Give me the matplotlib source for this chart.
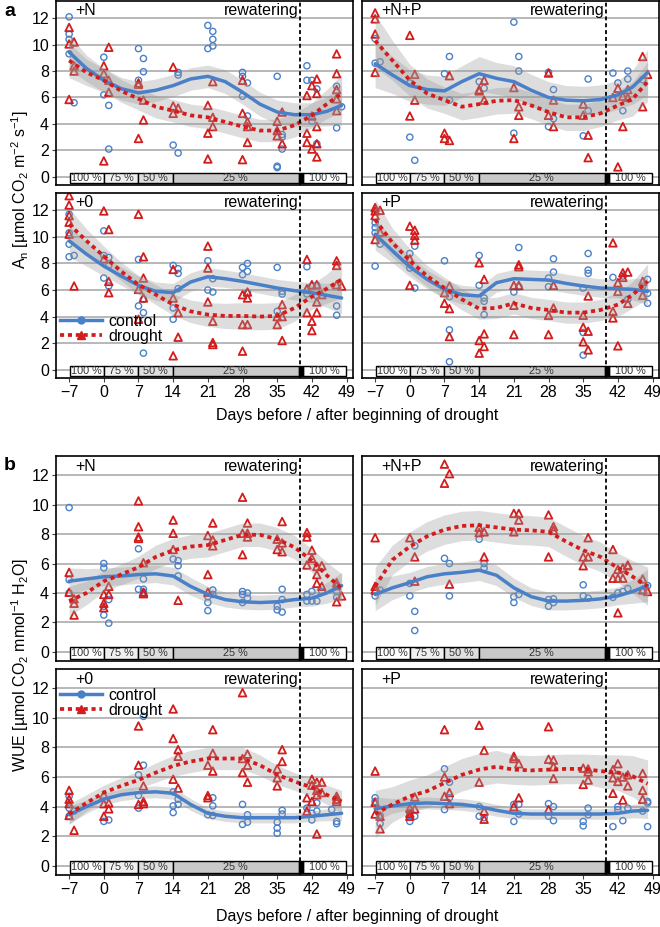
import matplotlib
matplotlib.use('Agg')
import matplotlib.pyplot as plt
from matplotlib.lines import Line2D
from matplotlib.patches import Rectangle

plt.rcParams['font.family'] = ['Liberation Sans', 'DejaVu Sans']

curve_days = [-7, -3.5, 0, 3.5, 7, 10.5, 14, 17.5, 21, 24.5, 28, 31.5, 35, 38.5, 42, 45, 48]
day_ticks = [-7, 0, 7, 14, 21, 28, 35, 42, 49]

# water supply bar
water_start = [-6.9, 0, 7, 14, 40.2]
water_end = [0, 7, 14, 39.3, 48.9]
water_labels = ['100 %', '75 %', '50 %', '25 %', '100 %']

# ---- a: net assimilation ----
an_N_ctrl_pts = [(-7, 12.1), (-7, 10.8), (-7, 10.4), (-7, 9.3), (-6, 5.6), (0, 9.05), (0, 6.2), (1, 5.4), (1, 2.1),
                 (7, 9.7), (7, 7.3), (8, 8.95), (8, 7.95), (14, 2.4), (15, 1.8), (15, 7.9), (15, 7.7), (21, 11.45),
                 (21, 9.7), (22, 11.0), (22, 10.4), (22, 9.9), (28, 7.9), (28, 7.6), (28, 6.1), (29, 7.1), (29, 4.6),
                 (35, 7.6), (35, 0.8), (35, 0.7), (36, 3.2), (36, 3.0), (36, 2.1), (41, 8.4), (41, 7.3), (42, 7.3),
                 (42, 4.2), (43, 6.65), (43, 2.5), (47, 3.7), (47, 6.85), (48, 5.3)]
an_N_drt_pts = [(-7, 11.3), (-7, 10.05), (-6, 10.2), (-6, 8.4), (-6, 8.0), (-7, 5.85), (0, 8.4), (0, 7.8), (1, 9.8),
                (1, 7.3), (1, 6.4), (0, 1.2), (7, 7.1), (7, 7.0), (7, 2.9), (8, 5.8), (8, 4.3), (14, 8.3), (14, 4.8),
                (14, 5.35), (15, 5.2), (21, 5.4), (21, 3.3), (21, 1.35), (22, 4.5), (22, 3.8), (22, 7.2), (28, 7.3),
                (28, 4.8), (28, 1.3), (29, 4.15), (29, 3.8), (29, 2.6), (35, 4.2), (35, 3.5), (35, 3.1), (36, 4.9),
                (36, 2.5), (41, 6.15), (41, 3.3), (41, 2.6), (42, 6.9), (42, 2.1), (43, 1.5), (43, 7.4), (43, 6.3),
                (43, 3.8), (43, 2.5), (42, 4.6), (47, 9.3), (47, 7.8), (47, 6.6), (47, 5.9), (47, 5.0)]
an_N_ctrl_fit = [9.43, 8.2, 7.3, 6.67, 6.35, 6.55, 6.9, 7.4, 7.6, 7.2, 6.4, 5.5, 4.9, 4.7, 4.7, 4.95, 5.4]
an_N_drt_fit = [8.8, 7.9, 7.3, 6.5, 5.9, 5.3, 5.0, 4.65, 4.5, 4.15, 3.8, 3.5, 3.5, 3.9, 4.65, 5.5, 6.3]
an_N_ctrl_ci = [1.3, 1.0, 0.9, 0.85, 0.85, 0.85, 0.85, 0.85, 0.85, 0.9, 0.9, 0.9, 0.9, 0.9, 0.9, 1.1, 1.5]
an_N_drt_ci = [1.3, 1.0, 0.9, 0.85, 0.85, 0.85, 0.85, 0.85, 0.85, 0.85, 0.85, 0.85, 0.85, 0.9, 0.95, 1.1, 1.4]

an_NP_ctrl_pts = [(-7, 10.45), (-7, 8.6), (-6, 8.7), (0, 3.0), (1, 1.25), (0, 7.1), (8, 9.1), (7, 7.8), (8, 5.8),
                  (14, 7.2), (15, 6.7), (21, 11.7), (22, 9.1), (22, 8.0), (21, 3.3), (28, 7.9), (29, 6.6), (29, 4.4),
                  (28, 3.8), (36, 7.4), (36, 5.0), (35, 3.1), (41, 7.85), (42, 7.1), (44, 8.0), (44, 7.4), (43, 5.0),
                  (47, 7.35)]
an_NP_drt_pts = [(-7, 12.4), (-7, 11.95), (-7, 10.8), (-7, 7.9), (0, 10.7), (0, 4.6), (1, 7.75), (1, 5.8), (7, 3.3),
                 (7, 2.9), (8, 2.75), (8, 7.65), (14, 6.6), (14, 6.5), (15, 7.3), (15, 5.8), (21, 6.75), (21, 2.9),
                 (22, 5.3), (22, 4.65), (28, 7.85), (28, 4.65), (29, 5.8), (29, 3.8), (35, 5.5), (35, 4.65),
                 (36, 3.15), (36, 1.45), (41, 6.0), (42, 6.7), (42, 0.75), (43, 6.1), (43, 3.8), (44, 6.6), (44, 6.0),
                 (47, 9.1), (47, 5.3), (48, 7.75)]
an_NP_ctrl_fit = [8.55, 7.7, 6.9, 6.6, 6.5, 7.2, 7.8, 7.45, 7.2, 6.55, 6.0, 5.8, 5.75, 5.85, 6.2, 6.8, 7.9]
an_NP_drt_fit = [10.3, 8.8, 7.3, 6.3, 5.8, 5.3, 5.5, 5.75, 5.8, 5.4, 4.9, 4.5, 4.5, 4.8, 5.4, 5.9, 7.2]
an_NP_ctrl_ci = [1.8, 1.4, 1.2, 1.1, 1.1, 1.2, 1.3, 1.2, 1.2, 1.2, 1.2, 1.1, 1.1, 1.1, 1.1, 1.3, 1.7]
an_NP_drt_ci = [2.0, 1.5, 1.2, 1.1, 1.0, 1.0, 1.0, 1.0, 1.0, 1.0, 1.0, 1.0, 1.0, 1.0, 1.1, 1.3, 1.5]

an_0_ctrl_pts = [(-7, 11.7), (-7, 10.3), (-7, 9.45), (-7, 8.5), (-6, 8.6), (0, 10.45), (0, 8.6), (0, 6.9), (1, 8.45),
                 (1, 7.85), (1, 6.3), (7, 8.3), (7, 4.8), (8, 4.3), (8, 1.25), (8, 5.3), (14, 7.85), (15, 7.6),
                 (15, 7.25), (15, 6.1), (14, 4.65), (14, 3.8), (21, 8.2), (21, 6.0), (22, 6.85), (22, 5.85),
                 (28, 7.7), (28, 7.15), (29, 8.0), (29, 7.4), (29, 5.8), (35, 7.7), (35, 4.4), (36, 5.9), (36, 5.7),
                 (41, 7.75), (41, 5.7), (42, 6.3), (43, 6.35), (43, 5.55), (47, 4.8), (47, 4.1)]
an_0_drt_pts = [(-7, 13.1), (-7, 12.4), (-7, 11.6), (-7, 11.1), (-7, 10.2), (-6, 6.3), (0, 11.95), (0, 8.35),
                (1, 10.55), (1, 6.65), (1, 5.8), (7, 11.7), (7, 6.05), (7, 3.8), (8, 8.5), (8, 6.9), (8, 5.4),
                (14, 7.55), (14, 5.4), (14, 1.05), (15, 4.3), (15, 2.45), (21, 9.3), (21, 7.65), (21, 5.1),
                (22, 3.65), (22, 2.05), (22, 1.9), (28, 5.65), (28, 3.4), (28, 1.4), (29, 5.85), (29, 5.4), (29, 3.4),
                (35, 3.4), (35, 4.0), (36, 4.9), (36, 2.2), (36, 4.0), (41, 8.3), (41, 6.1), (41, 4.3), (42, 6.4),
                (42, 3.65), (42, 2.95), (43, 6.4), (43, 4.3), (43, 5.1), (44, 5.65), (47, 8.2), (47, 7.85),
                (48, 6.3), (47, 6.4)]
an_0_ctrl_fit = [9.7, 8.7, 7.8, 7.05, 6.35, 5.9, 5.8, 6.6, 7.0, 6.85, 6.65, 6.4, 6.15, 5.95, 5.8, 5.6, 5.4]
an_0_drt_fit = [10.95, 9.7, 8.55, 7.4, 6.4, 5.65, 4.9, 4.4, 4.15, 4.05, 4.05, 4.0, 4.05, 4.65, 5.5, 6.1, 6.8]
an_0_ctrl_ci = [1.2, 0.9, 0.75, 0.7, 0.7, 0.7, 0.7, 0.7, 0.7, 0.65, 0.65, 0.65, 0.65, 0.7, 0.75, 0.9, 1.2]
an_0_drt_ci = [1.2, 0.9, 0.75, 0.7, 0.7, 0.75, 0.8, 0.85, 0.9, 0.95, 1.0, 1.0, 1.0, 1.0, 0.95, 1.1, 1.4]

an_P_ctrl_pts = [(-7, 11.05), (-7, 10.7), (-7, 10.3), (-7, 7.8), (-6, 9.45), (0, 8.75), (0, 7.65), (1, 9.3),
                 (1, 6.15), (7, 8.2), (8, 3.0), (8, 0.6), (8, 5.5), (14, 8.6), (14, 6.35), (15, 5.4), (15, 5.15),
                 (15, 4.15), (21, 5.85), (22, 9.2), (22, 6.25), (28, 6.9), (29, 8.35), (29, 7.35), (28, 6.25),
                 (35, 6.15), (35, 2.8), (35, 1.1), (36, 8.75), (36, 7.5), (36, 7.25), (41, 6.95), (43, 7.05),
                 (44, 5.3), (47, 6.3), (48, 6.8), (48, 5.75), (48, 5.0)]
an_P_drt_pts = [(-7, 12.2), (-7, 11.95), (-7, 11.6), (-6, 12.0), (-7, 9.8), (-6, 10.35), (0, 10.8), (0, 8.35),
                (0, 6.35), (1, 10.5), (1, 10.1), (1, 9.75), (7, 5.8), (7, 5.0), (8, 6.3), (8, 4.6), (8, 2.5),
                (14, 8.05), (14, 2.2), (14, 1.25), (15, 6.8), (15, 2.7), (15, 1.75), (21, 6.35), (21, 4.85),
                (21, 2.65), (22, 7.9), (22, 7.75), (22, 6.35), (28, 4.1), (28, 2.65), (29, 4.65), (29, 6.35),
                (35, 4.1), (35, 3.2), (35, 2.1), (36, 2.9), (36, 1.5), (36, 5.55), (41, 9.55), (41, 4.4), (41, 3.9),
                (42, 6.55), (42, 5.9), (42, 1.8), (43, 7.3), (43, 6.95), (44, 7.35), (44, 5.0), (47, 6.65),
                (47, 5.6)]
an_P_ctrl_fit = [10.2, 8.95, 7.75, 6.8, 6.05, 5.65, 5.55, 6.55, 6.85, 6.8, 6.75, 6.5, 6.3, 6.15, 6.1, 6.05, 5.9]
an_P_drt_fit = [11.3, 9.55, 8.2, 7.05, 6.15, 5.3, 4.6, 4.65, 5.0, 4.65, 4.5, 4.3, 4.3, 4.5, 4.9, 5.65, 6.65]
an_P_ctrl_ci = [1.2, 0.9, 0.75, 0.7, 0.7, 0.7, 0.7, 0.7, 0.7, 0.7, 0.7, 0.7, 0.7, 0.7, 0.7, 0.8, 1.0]
an_P_drt_ci = [1.5, 1.1, 0.9, 0.8, 0.8, 0.8, 0.8, 0.8, 0.8, 0.8, 0.8, 0.8, 0.8, 0.8, 0.9, 1.0, 1.3]

# ---- b: water use efficiency ----
wue_N_ctrl_pts = [(-7, 9.8), (-7, 4.9), (-7, 4.0), (0, 6.0), (0, 5.7), (0, 3.1), (0, 2.5), (1, 3.55), (1, 1.95),
                  (7, 7.0), (7, 4.25), (8, 4.95), (8, 4.25), (8, 4.05), (14, 6.3), (15, 6.2), (15, 5.85), (15, 5.15),
                  (21, 3.75), (21, 3.35), (21, 2.8), (22, 4.2), (22, 3.9), (28, 4.1), (28, 3.9), (28, 3.35),
                  (29, 4.0), (29, 3.65), (35, 3.1), (35, 2.85), (36, 4.25), (36, 3.55), (36, 2.7), (41, 3.9),
                  (41, 3.45), (42, 4.1), (42, 3.45), (43, 3.45), (44, 4.1), (47, 4.1), (47, 3.7)]
wue_N_drt_pts = [(-7, 5.4), (-7, 4.05), (-6, 3.6), (-6, 3.3), (-6, 2.5), (0, 3.9), (0, 3.3), (0, 3.0), (1, 4.45),
                 (1, 3.9), (7, 10.25), (7, 8.5), (7, 7.8), (7, 7.7), (8, 6.05), (8, 4.05), (8, 3.95), (14, 8.95),
                 (14, 8.05), (14, 6.95), (15, 3.5), (21, 5.25), (21, 4.05), (21, 7.9), (22, 8.75), (22, 7.6),
                 (22, 7.2), (28, 10.5), (28, 6.6), (28, 8.05), (29, 8.75), (29, 8.05), (29, 7.8), (35, 7.65),
                 (35, 6.95), (36, 8.85), (36, 7.4), (36, 6.8), (41, 8.1), (41, 7.8), (41, 5.9), (42, 6.9), (42, 6.35),
                 (43, 5.8), (43, 5.25), (43, 4.65), (44, 5.85), (44, 4.45), (47, 4.7), (47, 4.5), (47, 3.4),
                 (48, 3.8)]
wue_N_ctrl_fit = [4.8, 4.95, 5.1, 5.15, 5.25, 5.3, 5.15, 4.45, 3.9, 3.55, 3.4, 3.35, 3.4, 3.55, 3.65, 4.0, 4.5]
wue_N_drt_fit = [3.45, 4.0, 4.8, 5.25, 5.75, 6.45, 6.9, 7.15, 7.25, 7.6, 7.95, 7.95, 7.65, 7.1, 6.2, 5.2, 4.3]
wue_N_ctrl_ci = [0.9, 0.7, 0.6, 0.6, 0.6, 0.6, 0.6, 0.6, 0.55, 0.5, 0.5, 0.5, 0.5, 0.5, 0.55, 0.7, 0.9]
wue_N_drt_ci = [1.0, 0.8, 0.7, 0.7, 0.75, 0.8, 0.8, 0.8, 0.8, 0.8, 0.8, 0.8, 0.8, 0.8, 0.8, 0.9, 1.0]

wue_NP_ctrl_pts = [(-7, 3.8), (-6, 4.2), (0, 4.65), (0, 3.8), (1, 7.2), (1, 2.75), (1, 1.45), (7, 6.35), (8, 6.0),
                   (8, 3.8), (14, 7.65), (15, 6.0), (15, 5.7), (21, 3.75), (21, 3.35), (22, 3.9), (28, 3.55),
                   (28, 3.1), (29, 3.6), (29, 3.35), (35, 4.55), (35, 3.8), (36, 3.65), (41, 3.7), (42, 4.0),
                   (43, 4.1), (44, 4.3), (47, 4.2), (48, 4.5)]
wue_NP_drt_pts = [(-7, 7.75), (-7, 4.2), (-7, 4.45), (0, 7.75), (1, 6.45), (1, 4.8), (7, 12.75), (7, 11.45),
                  (8, 12.1), (8, 4.6), (14, 8.45), (14, 8.1), (15, 8.15), (15, 6.45), (21, 9.4), (21, 8.15),
                  (22, 9.4), (22, 8.95), (28, 9.3), (28, 6.45), (29, 8.5), (29, 8.25), (35, 6.45), (35, 5.85),
                  (36, 7.75), (36, 6.45), (41, 6.95), (41, 5.0), (42, 5.6), (42, 2.65), (43, 5.7), (43, 5.0),
                  (44, 5.9), (44, 5.85), (47, 4.95), (47, 4.2), (48, 4.1), (42, 5.0)]
wue_NP_ctrl_fit = [3.9, 4.35, 4.7, 5.1, 5.3, 5.4, 5.55, 5.2, 4.35, 3.75, 3.45, 3.45, 3.5, 3.6, 3.8, 4.1, 4.5]
wue_NP_drt_fit = [4.45, 6.25, 7.15, 7.85, 8.3, 8.55, 8.6, 8.45, 8.3, 8.25, 8.15, 7.5, 6.9, 6.45, 5.7, 5.1, 4.45]
wue_NP_ctrl_ci = [1.1, 0.8, 0.7, 0.7, 0.7, 0.7, 0.7, 0.7, 0.65, 0.6, 0.6, 0.6, 0.6, 0.6, 0.6, 0.8, 1.1]
wue_NP_drt_ci = [1.3, 1.0, 1.0, 1.0, 1.0, 1.0, 1.0, 1.0, 1.0, 1.0, 1.0, 1.0, 1.0, 1.0, 1.0, 1.1, 1.3]

wue_0_ctrl_pts = [(-7, 4.7), (-7, 3.9), (-7, 3.35), (-6, 3.7), (0, 3.0), (1, 3.1), (7, 6.15), (7, 4.75), (7, 3.9),
                  (8, 10.1), (8, 6.8), (14, 4.05), (14, 3.6), (15, 4.5), (15, 4.15), (14, 5.0), (21, 3.45),
                  (22, 4.6), (22, 4.05), (22, 3.4), (28, 4.15), (28, 2.8), (29, 3.45), (29, 2.95), (35, 2.95),
                  (35, 2.55), (35, 2.2), (36, 3.75), (36, 3.5), (41, 3.9), (42, 3.55), (42, 3.1), (43, 4.25),
                  (43, 3.7), (46, 3.8), (47, 3.0), (47, 2.85)]
wue_0_drt_pts = [(-7, 5.1), (-7, 4.5), (-7, 4.2), (-7, 3.4), (-6, 2.4), (0, 4.8), (0, 4.2), (0, 3.35), (1, 4.25),
                 (1, 3.85), (7, 9.45), (7, 6.8), (7, 4.15), (8, 5.4), (8, 4.35), (8, 4.2), (14, 10.6), (14, 8.6),
                 (14, 5.85), (15, 7.85), (15, 7.4), (15, 5.25), (21, 6.8), (21, 4.75), (21, 4.6), (22, 9.2),
                 (22, 7.6), (22, 6.4), (28, 11.7), (28, 7.25), (28, 6.3), (29, 7.55), (29, 6.8), (29, 5.65),
                 (35, 6.55), (35, 5.95), (35, 5.4), (36, 7.85), (36, 7.05), (41, 4.6), (41, 3.7), (42, 5.85),
                 (42, 5.45), (42, 4.35), (43, 5.65), (43, 5.1), (43, 4.8), (43, 2.15), (44, 5.65), (44, 4.95),
                 (47, 4.5), (47, 4.35), (47, 4.7)]
wue_0_ctrl_fit = [3.45, 4.0, 4.5, 4.8, 4.95, 5.0, 4.9, 4.15, 3.55, 3.35, 3.25, 3.25, 3.25, 3.25, 3.35, 3.45, 3.55]
wue_0_drt_fit = [3.5, 4.25, 4.95, 5.4, 5.8, 6.3, 6.75, 7.05, 7.25, 7.25, 7.25, 6.8, 6.15, 5.7, 5.3, 4.8, 4.35]
wue_0_ctrl_ci = [0.6, 0.45, 0.4, 0.4, 0.4, 0.4, 0.4, 0.4, 0.35, 0.35, 0.35, 0.35, 0.35, 0.35, 0.35, 0.4, 0.5]
wue_0_drt_ci = [0.7, 0.55, 0.5, 0.55, 0.6, 0.65, 0.7, 0.75, 0.75, 0.75, 0.75, 0.7, 0.65, 0.6, 0.6, 0.65, 0.75]

wue_P_ctrl_pts = [(-7, 4.6), (-7, 4.35), (-6, 3.4), (-6, 2.85), (0, 3.6), (0, 3.0), (1, 3.35), (7, 6.55), (7, 3.8),
                  (8, 5.65), (8, 4.6), (14, 4.0), (14, 3.35), (15, 3.25), (21, 3.0), (21, 4.15), (22, 4.15),
                  (22, 3.5), (28, 4.2), (28, 3.35), (29, 4.0), (29, 3.05), (35, 3.0), (35, 2.7), (36, 3.9),
                  (36, 3.45), (41, 2.65), (42, 4.0), (42, 3.8), (43, 3.05), (44, 3.9), (47, 3.7), (48, 4.35),
                  (48, 4.25), (48, 2.65)]
wue_P_drt_pts = [(-7, 6.4), (-7, 4.3), (-7, 3.5), (-6, 3.35), (-6, 2.5), (0, 3.9), (0, 3.55), (0, 3.35), (1, 4.65),
                 (1, 3.85), (7, 9.2), (7, 6.0), (7, 4.7), (8, 4.95), (8, 4.2), (14, 9.5), (14, 5.65), (15, 7.8),
                 (15, 3.7), (15, 3.15), (21, 7.4), (21, 7.25), (21, 4.0), (22, 6.9), (22, 4.6), (28, 9.4), (28, 7.2),
                 (28, 3.8), (29, 7.15), (29, 6.7), (29, 5.9), (35, 6.6), (35, 5.5), (36, 6.55), (36, 6.35),
                 (36, 5.8), (41, 6.5), (41, 5.95), (41, 4.9), (42, 6.9), (42, 5.7), (43, 6.0), (43, 4.45),
                 (44, 6.15), (44, 5.4), (47, 6.25), (47, 5.1), (47, 4.5)]
wue_P_ctrl_fit = [3.85, 4.05, 4.2, 4.25, 4.2, 4.15, 4.0, 3.75, 3.55, 3.5, 3.5, 3.5, 3.5, 3.5, 3.55, 3.7, 3.75]
wue_P_drt_fit = [3.5, 4.15, 4.7, 5.05, 5.6, 6.15, 6.5, 6.7, 6.5, 6.45, 6.5, 6.55, 6.55, 6.4, 6.3, 6.05, 5.55]
wue_P_ctrl_ci = [0.8, 0.5, 0.4, 0.4, 0.4, 0.4, 0.4, 0.4, 0.35, 0.35, 0.35, 0.35, 0.35, 0.35, 0.4, 0.45, 0.55]
wue_P_drt_ci = [1.6, 1.2, 1.1, 1.1, 1.1, 1.1, 1.1, 1.1, 1.0, 1.0, 1.0, 1.0, 1.0, 1.1, 1.2, 1.4, 1.6]

BLUE = '#4a80c8'
RED = '#d41c1c'
DOTS = (0, (1.1, 1.0))
water_colors = ['white', '#efefef', '#dedede', '#c9c9c9', 'white']


def draw_panel(ax, name, ctrl_pts, drt_pts, ctrl_fit, drt_fit, ctrl_ci, drt_ci, bottom, left):
    for y in range(0, 13, 2):
        ax.axhline(y, color='#b8b8b8', lw=1.4, zorder=0.5)
    cx, cy = zip(*ctrl_pts)
    dx, dy = zip(*drt_pts)
    ax.scatter(cx, cy, marker='o', s=20, facecolors='none', edgecolors=BLUE, linewidths=1.0, zorder=2)
    ax.scatter(dx, dy, marker='^', s=30, facecolors='none', edgecolors=RED, linewidths=1.3, zorder=2)
    for fit, ci in ((ctrl_fit, ctrl_ci), (drt_fit, drt_ci)):
        lo = [f - c for f, c in zip(fit, ci)]
        hi = [f + c for f, c in zip(fit, ci)]
        ax.fill_between(curve_days, lo, hi, color='#999999', alpha=0.33, lw=0, zorder=3)
    ax.plot(curve_days, ctrl_fit, color=BLUE, lw=2.5, zorder=4, solid_capstyle='round')
    ax.plot(curve_days, drt_fit, color=RED, lw=2.7, ls=DOTS, zorder=4)

    for s, e, lab, col in zip(water_start, water_end, water_labels, water_colors):
        ax.add_patch(Rectangle((s, -0.48), e - s, 0.78, facecolor=col, edgecolor='black', lw=1.0, zorder=5))
        ax.text((s + e) / 2, -0.1, lab, fontsize=7.8, ha='center', va='center', color='#333333', zorder=6)
    ax.add_patch(Rectangle((39.3, -0.48), 0.9, 0.78, facecolor='black', edgecolor='black', lw=1.0, zorder=5))
    ax.axvline(39.7, color='black', lw=1.3, ls=(0, (2.2, 1.6)), zorder=7)

    ax.text(39.3, 12.6, 'rewatering', ha='right', va='center', fontsize=11.5, zorder=8)
    ax.text(-5.7, 12.6, name, ha='left', va='center', fontsize=11.5, zorder=8)

    ax.set_xlim(-9.65, 50.3)
    ax.set_ylim(-0.62, 13.3)
    ax.set_yticks(range(0, 13, 2))
    ax.set_xticks(day_ticks)
    ax.tick_params(axis='y', length=3, color='#444444', labelsize=11.5, pad=2, labelleft=left)
    if not left:
        ax.tick_params(axis='y', length=0)
    ax.tick_params(axis='x', length=3, color='#444444', labelsize=11.5, pad=2, labelbottom=bottom)
    if not bottom:
        ax.tick_params(axis='x', length=0)
    for sp in ax.spines.values():
        sp.set_linewidth(1.2)
        sp.set_color('black')
        sp.set_zorder(9)


def add_legend(ax, y_anchor):
    handles = [Line2D([], [], color=BLUE, lw=2.5, marker='o', markersize=5),
               Line2D([], [], color=RED, lw=2.7, ls=DOTS, marker='^', markersize=6)]
    ax.legend(handles, ['control', 'drought'], loc='center left', bbox_to_anchor=(0.015, y_anchor),
              frameon=False, fontsize=11.5, handlelength=2.6, handletextpad=0.4, labelspacing=0.0,
              borderpad=0, borderaxespad=0)


fig = plt.figure(figsize=(6.6, 9.27), dpi=100)
W, H = 660, 927


def axes_at(x0, y0, x1, y1):
    return fig.add_axes([x0 / W, 1 - y1 / H, (x1 - x0) / W, (y1 - y0) / H])


ax = axes_at(56, 1, 353, 185)
draw_panel(ax, '+N', an_N_ctrl_pts, an_N_drt_pts, an_N_ctrl_fit, an_N_drt_fit, an_N_ctrl_ci, an_N_drt_ci, False, True)
ax = axes_at(362, 1, 659, 185)
draw_panel(ax, '+N+P', an_NP_ctrl_pts, an_NP_drt_pts, an_NP_ctrl_fit, an_NP_drt_fit, an_NP_ctrl_ci, an_NP_drt_ci,
           False, False)
ax = axes_at(56, 193, 353, 378)
draw_panel(ax, '+0', an_0_ctrl_pts, an_0_drt_pts, an_0_ctrl_fit, an_0_drt_fit, an_0_ctrl_ci, an_0_drt_ci, True, True)
add_legend(ax, 0.265)
ax = axes_at(362, 193, 659, 378)
draw_panel(ax, '+P', an_P_ctrl_pts, an_P_drt_pts, an_P_ctrl_fit, an_P_drt_fit, an_P_ctrl_ci, an_P_drt_ci, True, False)

ax = axes_at(56, 456, 353, 661)
draw_panel(ax, '+N', wue_N_ctrl_pts, wue_N_drt_pts, wue_N_ctrl_fit, wue_N_drt_fit, wue_N_ctrl_ci, wue_N_drt_ci,
           False, True)
ax = axes_at(362, 456, 659, 661)
draw_panel(ax, '+N+P', wue_NP_ctrl_pts, wue_NP_drt_pts, wue_NP_ctrl_fit, wue_NP_drt_fit, wue_NP_ctrl_ci,
           wue_NP_drt_ci, False, False)
ax = axes_at(56, 669, 353, 875)
draw_panel(ax, '+0', wue_0_ctrl_pts, wue_0_drt_pts, wue_0_ctrl_fit, wue_0_drt_fit, wue_0_ctrl_ci, wue_0_drt_ci,
           True, True)
add_legend(ax, 0.835)
ax = axes_at(362, 669, 659, 875)
draw_panel(ax, '+P', wue_P_ctrl_pts, wue_P_drt_pts, wue_P_ctrl_fit, wue_P_drt_fit, wue_P_ctrl_ci, wue_P_drt_ci,
           True, False)

fig.text(10 / W, 1 - 12 / H, 'a', fontsize=14, fontweight='bold', ha='center', va='center')
fig.text(10 / W, 1 - 466 / H, 'b', fontsize=14, fontweight='bold', ha='center', va='center')
fig.text(20 / W, 1 - 189 / H, r'A$_\mathregular{n}$ [µmol CO$_\mathregular{2}$ m$^\mathregular{-2}$ s$^\mathregular{-1}$]',
         rotation=90, fontsize=11.5, ha='center', va='center')
fig.text(20 / W, 1 - 665 / H, r'WUE [µmol CO$_\mathregular{2}$ mmol$^\mathregular{-1}$ H$_\mathregular{2}$O]',
         rotation=90, fontsize=11.5, ha='center', va='center')
fig.text(357 / W, 1 - 415 / H, 'Days before / after beginning of drought', fontsize=11.5, ha='center', va='center')
fig.text(357 / W, 1 - 917 / H, 'Days before / after beginning of drought', fontsize=11.5, ha='center', va='center')

fig.savefig('out.png', dpi=100)
